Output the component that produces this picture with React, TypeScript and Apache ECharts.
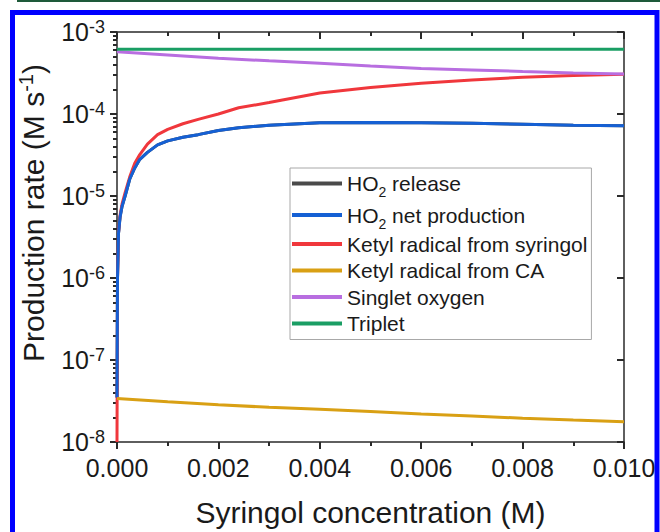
import React, { useEffect, useRef } from 'react';
import * as echarts from 'echarts';

// ---------- data ----------
const X_RISE = [0, 0.00001, 0.00003, 0.00006, 0.0001, 0.00016, 0.00025, 0.00035, 0.00045, 0.0006, 0.0008, 0.001, 0.0013, 0.0016, 0.002, 0.0024, 0.003, 0.004, 0.005, 0.006, 0.007, 0.008, 0.009, 0.01];
const HO2_NET = [3.5e-8, 1.0e-6, 3.5e-6, 5.5e-6, 7.5e-6, 1.0e-5, 1.6e-5, 2.2e-5, 2.8e-5, 3.4e-5, 4.2e-5, 4.7e-5, 5.2e-5, 5.6e-5, 6.3e-5, 6.8e-5, 7.3e-5, 7.8e-5, 7.9e-5, 7.8e-5, 7.7e-5, 7.5e-5, 7.3e-5, 7.2e-5];
const HO2_RELEASE = [3.5e-8, 1.0e-6, 3.5e-6, 5.5e-6, 7.5e-6, 1.0e-5, 1.6e-5, 2.2e-5, 2.8e-5, 3.4e-5, 4.2e-5, 4.7e-5, 5.2e-5, 5.6e-5, 6.3e-5, 6.8e-5, 7.3e-5, 7.8e-5, 7.9e-5, 7.8e-5, 7.7e-5, 7.5e-5, 7.3e-5, 7.2e-5];
const KETYL_SYRINGOL = [1e-8, 1.0e-6, 3.6e-6, 5.8e-6, 8.0e-6, 1.1e-5, 1.7e-5, 2.5e-5, 3.2e-5, 4.3e-5, 5.6e-5, 6.5e-5, 7.6e-5, 8.6e-5, 1.0e-4, 1.19e-4, 1.38e-4, 1.8e-4, 2.1e-4, 2.37e-4, 2.6e-4, 2.8e-4, 2.95e-4, 3.05e-4];
const X_LIN = [0, 0.001, 0.002, 0.003, 0.004, 0.005, 0.006, 0.007, 0.008, 0.009, 0.01];
const KETYL_CA = [3.4e-8, 3.1e-8, 2.85e-8, 2.65e-8, 2.5e-8, 2.35e-8, 2.2e-8, 2.07e-8, 1.95e-8, 1.85e-8, 1.77e-8];
const SINGLET_O2 = [5.75e-4, 5.25e-4, 4.8e-4, 4.45e-4, 4.15e-4, 3.85e-4, 3.6e-4, 3.45e-4, 3.3e-4, 3.17e-4, 3.07e-4];
const TRIPLET = [6.15e-4, 6.15e-4, 6.15e-4, 6.15e-4, 6.15e-4, 6.15e-4, 6.15e-4, 6.15e-4, 6.15e-4, 6.15e-4, 6.15e-4];

const SERIES_NAMES = ['HO2 release', 'HO2 net production', 'Ketyl radical from syringol', 'Ketyl radical from CA', 'Singlet oxygen', 'Triplet'];
const COLORS = ['#4a4a4a', '#1560d4', '#f0373c', '#d9a014', '#b86ee0', '#1a9e64'];

const X_MIN = 0;
const X_MAX = 0.01;
const X_INTERVAL = 0.002;
const Y_MIN = 1e-8;
const Y_MAX = 1e-3;
const Y_EXP_MIN = -8;
const Y_EXP_MAX = -3;
const X_TITLE = 'Syringol concentration (M)';

const FONT = '"Liberation Sans", Arial, Helvetica, sans-serif';
const TEXT = '#1a1a1a';
const AXIS = '#2a2a2a';
const TICK = '#2a2a2a';

const zip = (xs: number[], ys: number[]) => xs.map((x, i) => [x, ys[i]]);

// minor ticks of the log axis (2..9 x 10^n), expressed as exponents
const minorLogExp: number[] = [];
for (let e = Y_EXP_MIN; e < Y_EXP_MAX; e++) {
  for (let m = 2; m <= 9; m++) minorLogExp.push(e + Math.log10(m));
}

export default function App() {
  const ref = useRef<HTMLDivElement>(null);

  useEffect(() => {
    if (!ref.current) return;
    const chart = echarts.init(ref.current, undefined, { renderer: 'svg' });

    const tick = (len: number, inside: boolean, extra: any = {}) => ({
      show: true,
      inside,
      length: len,
      lineStyle: { color: TICK, width: 2 },
      ...extra,
    });

    const option: any = {
      animation: false,
      backgroundColor: '#ffffff',
      color: COLORS,
      graphic: [
        { type: 'rect', z: 100, silent: true, shape: { x: 17, y: 0, width: 643, height: 2 }, style: { fill: '#1e5a3a' } },
        { type: 'rect', z: 100, silent: true, shape: { x: 12.5, y: 12.5, width: 644.5, height: 600 }, style: { fill: 'none', stroke: '#0000ff', lineWidth: 5 } },
      ],
      grid: { left: 117, right: 36, top: 32, bottom: 90, containLabel: false, outerBoundsMode: 'none' },
      legend: {
        data: SERIES_NAMES,
        orient: 'vertical',
        left: 290,
        top: 168,
        icon: 'rect',
        itemWidth: 50,
        itemHeight: 4,
        itemGap: 0.5,
        padding: [0, 4, 3, 2],
        borderColor: '#a8a8a8',
        borderWidth: 1,
        selectedMode: false,
        formatter: (name: string) =>
          name.startsWith('HO2') ? '{a|HO}{sub|2}{a|' + name.slice(3) + '}' : name,
        textStyle: {
          fontSize: 21,
          fontFamily: FONT,
          color: TEXT,
          lineHeight: 26,
          rich: {
            a: { fontSize: 21, fontFamily: FONT, color: TEXT, lineHeight: 31, verticalAlign: 'middle' },
            sub: { fontSize: 14, fontFamily: FONT, color: TEXT, lineHeight: 13, verticalAlign: 'bottom' },
          },
        },
      },
      xAxis: [
        {
          type: 'value',
          position: 'bottom',
          min: X_MIN,
          max: X_MAX,
          interval: X_INTERVAL,
          name: X_TITLE,
          nameLocation: 'middle',
          nameGap: 55,
          nameTextStyle: { fontSize: 30, fontFamily: FONT, color: TEXT, lineHeight: 30 },
          axisLine: { show: true, onZero: false, lineStyle: { color: AXIS, width: 1.5 } },
          axisTick: tick(7, false),
          minorTick: { show: true, splitNumber: 2, length: 4, lineStyle: { color: TICK, width: 2 } },
          axisLabel: {
            show: true,
            margin: 13,
            fontSize: 25,
            fontFamily: FONT,
            color: TEXT,
            formatter: (v: number) => v.toFixed(3),
          },
          splitLine: { show: false },
        },
        {
          type: 'value',
          position: 'top',
          min: X_MIN,
          max: X_MAX,
          interval: X_INTERVAL,
          axisLine: { show: true, onZero: false, lineStyle: { color: AXIS, width: 1.5 } },
          axisTick: tick(7, true),
          minorTick: { show: true, splitNumber: 2, length: 4, lineStyle: { color: TICK, width: 2 } },
          axisLabel: { show: false },
          splitLine: { show: false },
        },
      ],
      yAxis: [
        {
          type: 'log',
          logBase: 10,
          min: Y_MIN,
          max: Y_MAX,
          splitNumber: 5,
          position: 'left',
          name: 'Production rate (M s{s|-1})',
          nameLocation: 'middle',
          nameGap: 66,
          nameTextStyle: {
            fontSize: 30,
            fontFamily: FONT,
            color: TEXT,
            lineHeight: 34,
            padding: [0, 0, 0, 48],
            rich: {
              s: { fontSize: 20, fontFamily: FONT, color: TEXT, lineHeight: 20, verticalAlign: 'top' },
            },
          },
          axisLine: { show: true, onZero: false, lineStyle: { color: AXIS, width: 1.5 } },
          axisTick: tick(7, false),
          axisLabel: {
            show: true,
            margin: 12,
            formatter: (v: number) => '{b|10}{s|' + Math.round(Math.log10(v)) + '}',
            rich: {
              b: { fontSize: 25, fontFamily: FONT, color: TEXT, lineHeight: 28, verticalAlign: 'middle' },
              s: { fontSize: 18, fontFamily: FONT, color: TEXT, lineHeight: 18, verticalAlign: 'top', padding: [0, 0, 4, 0] },
            },
          },
          splitLine: { show: false },
        },
        {
          type: 'value',
          min: Y_EXP_MIN,
          max: Y_EXP_MAX,
          position: 'left',
          axisLine: { show: false },
          axisLabel: { show: false },
          splitLine: { show: false },
          axisTick: tick(4, false, { customValues: minorLogExp }),
        },
        {
          type: 'log',
          logBase: 10,
          min: Y_MIN,
          max: Y_MAX,
          splitNumber: 5,
          position: 'right',
          axisLine: { show: true, onZero: false, lineStyle: { color: AXIS, width: 1.5 } },
          axisTick: tick(7, true),
          axisLabel: { show: false },
          splitLine: { show: false },
        },
        {
          type: 'value',
          min: Y_EXP_MIN,
          max: Y_EXP_MAX,
          position: 'right',
          axisLine: { show: false },
          axisLabel: { show: false },
          splitLine: { show: false },
          axisTick: tick(4, true, { customValues: minorLogExp }),
        },
      ],
      series: [
        { name: SERIES_NAMES[0], data: zip(X_RISE, HO2_RELEASE), color: COLORS[0] },
        { name: SERIES_NAMES[2], data: zip(X_RISE, KETYL_SYRINGOL), color: COLORS[2] },
        { name: SERIES_NAMES[1], data: zip(X_RISE, HO2_NET), color: COLORS[1] },
        { name: SERIES_NAMES[3], data: zip(X_LIN, KETYL_CA), color: COLORS[3] },
        { name: SERIES_NAMES[4], data: zip(X_LIN, SINGLET_O2), color: COLORS[4] },
        { name: SERIES_NAMES[5], data: zip(X_LIN, TRIPLET), color: COLORS[5] },
      ].map((s) => ({
        ...s,
        type: 'line',
        xAxisIndex: 0,
        yAxisIndex: 0,
        showSymbol: false,
        lineStyle: { width: 3, color: s.color },
        itemStyle: { color: s.color },
      })),
    };

    chart.setOption(option);
    return () => chart.dispose();
  }, []);

  return (
    <div
      ref={ref}
      style={{ position: 'fixed', left: 0, top: 0, width: 660, height: 532, background: '#fff' }}
    />
  );
}
